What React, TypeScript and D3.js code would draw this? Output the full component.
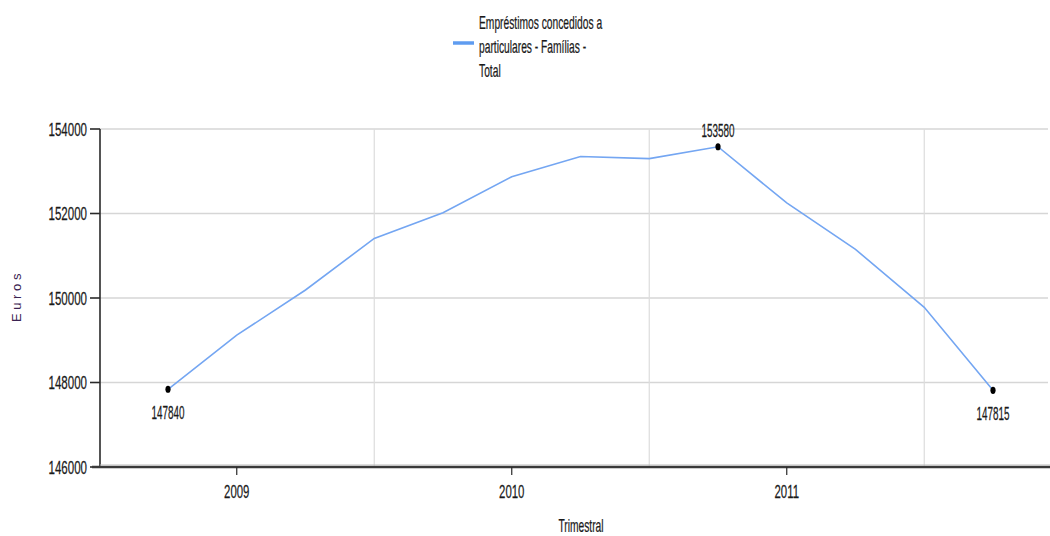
import React from "react";
import * as d3 from "d3";

const quarters = [
  "2008T4", "2009T1", "2009T2", "2009T3", "2009T4",
  "2010T1", "2010T2", "2010T3", "2010T4",
  "2011T1", "2011T2", "2011T3", "2011T4",
];
const values = [
  147840, 149120, 150190, 151410, 152020,
  152870, 153350, 153300, 153580,
  152250, 151150, 149780, 147815,
];
const labeledIdx = [0, 8, 12];
const yTicks = [146000, 148000, 150000, 152000, 154000];
const yearLabels = ["2009", "2010", "2011"];
const seriesName = ["Empréstimos concedidos a", "particulares - Famílias -", "Total"];
const yTitle = "Euros";
const xTitle = "Trimestral";

const W = 1050;
const H = 536;
const FONT = "'Liberation Sans', Arial, sans-serif";
const TXT = "#1a1a1a";

function CText({ x, y, size, sx, anchor = "middle", fill = TXT, children }: any) {
  return (
    <g transform={`translate(${x},${y}) scale(${sx},1)`}>
      <text textAnchor={anchor} fontSize={size} fontFamily={FONT} fill={fill} stroke={fill} strokeWidth={0.25}>
        {children}
      </text>
    </g>
  );
}

export default function App() {
  const left = 100;
  const right = 1048;
  const top = 129;
  const bottom = 467;

  const x = d3.scaleLinear().domain([0, quarters.length - 1]).range([168, 993]);
  const y = d3.scaleLinear().domain([146000, 154000]).range([bottom, top]);

  const line = d3
    .line<number>()
    .x((_, i) => x(i))
    .y((d) => y(d));

  const yearIdx = quarters.map((q, i) => (q.endsWith("T1") ? i : -1)).filter((i) => i >= 0);
  const gridIdx = quarters.map((q, i) => (q.endsWith("T3") ? i : -1)).filter((i) => i >= 0);

  return (
    <svg
      width={W}
      height={H}
      style={{ position: "absolute", left: 0, top: 0, background: "#fff" }}
    >
      {yTicks.slice(1).map((t) => (
        <line key={"hg" + t} x1={left} x2={right} y1={y(t)} y2={y(t)} stroke="#d6d6d6" strokeWidth={1.5} />
      ))}
      {gridIdx.map((i) => (
        <line key={"vg" + i} x1={x(i)} x2={x(i)} y1={top} y2={bottom} stroke="#dcdcdc" strokeWidth={1.2} />
      ))}

      <line x1={left} x2={left} y1={top} y2={bottom} stroke="#2a2a2a" strokeWidth={1.6} />
      {yTicks.map((t) => (
        <g key={"yt" + t}>
          <line x1={left - 10} x2={left} y1={y(t)} y2={y(t)} stroke="#2a2a2a" strokeWidth={1.6} />
          <CText x={left - 13} y={y(t) + 6.5} size={18} sx={0.64} anchor="end">
            {t}
          </CText>
        </g>
      ))}

      <line x1={left - 8} x2={W} y1={bottom} y2={bottom} stroke="#3a3a3a" strokeWidth={2.5} />
      <line x1={left} x2={W} y1={bottom - 2} y2={bottom - 2} stroke="#bbbbbb" strokeWidth={1} />
      {yearIdx.map((i, k) => (
        <g key={"xt" + i}>
          <line x1={x(i)} x2={x(i)} y1={bottom} y2={bottom + 8} stroke="#2a2a2a" strokeWidth={1.2} />
          <CText x={x(i)} y={bottom + 31} size={19} sx={0.6}>
            {yearLabels[k]}
          </CText>
        </g>
      ))}

      <CText x={581} y={532} size={18} sx={0.57}>
        {xTitle}
      </CText>
      <text
        transform={`translate(21,${296}) rotate(-90)`}
        textAnchor="middle"
        fontSize={13}
        fontFamily={FONT}
        fill="#3b2352"
        letterSpacing={3.6}
      >
        {yTitle}
      </text>

      <path d={line(values) || ""} fill="none" stroke="#74a6f2" strokeWidth={1.6} />

      {labeledIdx.map((i) => {
        const above = i === 8;
        return (
          <g key={"pt" + i}>
            <ellipse cx={x(i)} cy={y(values[i])} rx={2.6} ry={3.6} fill="#000" />
            <CText x={x(i)} y={above ? y(values[i]) - 10 : y(values[i]) + 30} size={18} sx={0.55}>
              {values[i]}
            </CText>
          </g>
        );
      })}

      <line x1={453} x2={474} y1={43} y2={43} stroke="#5f9cf0" strokeWidth={3.5} />
      {seriesName.map((s, k) => (
        <CText key={"lg" + k} x={479} y={29 + k * 24} size={18} sx={0.57} anchor="start">
          {s}
        </CText>
      ))}
    </svg>
  );
}
